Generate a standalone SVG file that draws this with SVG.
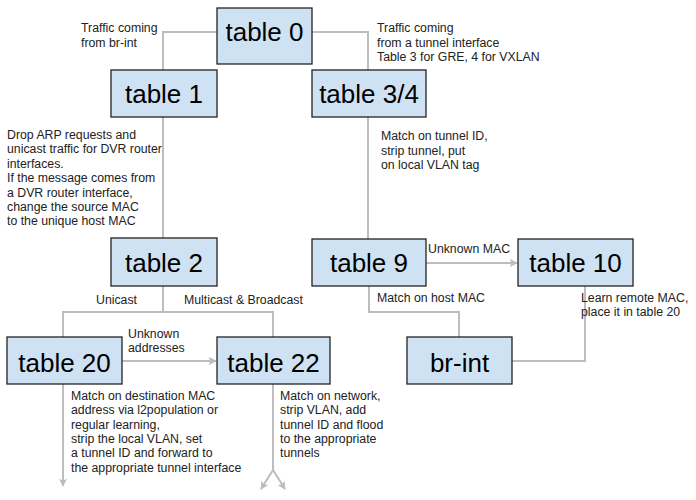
<svg xmlns="http://www.w3.org/2000/svg" width="696" height="500" viewBox="0 0 696 500">
<defs>
<style>
.node rect{fill:#cfe2f3;stroke:#222;stroke-width:1.3}
.node text{font-family:"Liberation Sans",Arial,sans-serif;font-size:26px;fill:#000;text-anchor:middle}
.conn path{fill:none;stroke:#bdbdbd;stroke-width:2}
.lbl{font-family:"Liberation Sans",Arial,sans-serif;font-size:12.3px;fill:#222}
</style>
<marker id="ah" viewBox="0 0 10 10" refX="9" refY="5" markerWidth="4" markerHeight="4" orient="auto" markerUnits="strokeWidth">
<path d="M0,0 L10,5 L0,10 L2,5 Z" fill="#bdbdbd"/>
</marker>
</defs>
<rect width="696" height="500" fill="#fff"/>
<g id="connectors" class="conn">
<path d="M217,32 H163 V70"/>
<path d="M312,32 H368 V70"/>
<path d="M163,117 V238"/>
<path d="M368,117 V239"/>
<path d="M426,263 H517" marker-end="url(#ah)"/>
<path d="M369,286 V312 H459 V337"/>
<path d="M585,286 V361 H512"/>
<path d="M163,286 V312"/>
<path d="M63,337 V312 H273 V337"/>
<path d="M122,361 H216" marker-end="url(#ah)"/>
<path d="M63,384 V486" marker-end="url(#ah)"/>
<path d="M273,384 V470 L261,489" marker-end="url(#ah)"/>
<path d="M273,470 L285,489" marker-end="url(#ah)"/>
</g>
<g id="table0" class="node"><rect x="217" y="8" width="95" height="56"/><text x="264.5" y="41">table 0</text></g>
<g id="table1" class="node"><rect x="111" y="70" width="106" height="47"/><text x="164" y="103">table 1</text></g>
<g id="table34" class="node"><rect x="312" y="70" width="114" height="47"/><text x="369" y="103">table 3/4</text></g>
<g id="table2" class="node"><rect x="111" y="238" width="106" height="48"/><text x="164" y="272">table 2</text></g>
<g id="table9" class="node"><rect x="312" y="239" width="114" height="47"/><text x="369" y="272">table 9</text></g>
<g id="table10" class="node"><rect x="518" y="239" width="115" height="47"/><text x="575.5" y="272">table 10</text></g>
<g id="table20" class="node"><rect x="7" y="337" width="115" height="47"/><text x="64.5" y="372">table 20</text></g>
<g id="table22" class="node"><rect x="217" y="337" width="113" height="47"/><text x="273.5" y="372">table 22</text></g>
<g id="brint" class="node"><rect x="407" y="337" width="105" height="47"/><text x="459.5" y="372">br-int</text></g>
<g id="labels">
<text class="lbl" x="81" y="32">Traffic coming</text>
<text class="lbl" x="81" y="47">from br-int</text>
<text class="lbl" x="377" y="32">Traffic coming</text>
<text class="lbl" x="377" y="46.5">from a tunnel interface</text>
<text class="lbl" x="377" y="61">Table 3 for GRE, 4 for VXLAN</text>
<text class="lbl" x="7" y="139">Drop ARP requests and</text>
<text class="lbl" x="7" y="153.4">unicast traffic for DVR router</text>
<text class="lbl" x="7" y="167.8">interfaces.</text>
<text class="lbl" x="7" y="182.2">If the message comes from</text>
<text class="lbl" x="7" y="196.6">a DVR router interface,</text>
<text class="lbl" x="7" y="211">change the source MAC</text>
<text class="lbl" x="7" y="225.4">to the unique host MAC</text>
<text class="lbl" x="381" y="140">Match on tunnel ID,</text>
<text class="lbl" x="381" y="154.5">strip tunnel, put</text>
<text class="lbl" x="381" y="169">on local VLAN tag</text>
<text class="lbl" x="428" y="253">Unknown MAC</text>
<text class="lbl" x="96" y="304">Unicast</text>
<text class="lbl" x="184" y="304">Multicast &amp; Broadcast</text>
<text class="lbl" x="377" y="302">Match on host MAC</text>
<text class="lbl" x="581" y="302">Learn remote MAC,</text>
<text class="lbl" x="581" y="316">place it in table 20</text>
<text class="lbl" x="128" y="338">Unknown</text>
<text class="lbl" x="128" y="352">addresses</text>
<text class="lbl" x="71" y="400">Match on destination MAC</text>
<text class="lbl" x="71" y="414.3">address via l2population or</text>
<text class="lbl" x="71" y="428.6">regular learning,</text>
<text class="lbl" x="71" y="442.9">strip the local VLAN, set</text>
<text class="lbl" x="71" y="457.2">a tunnel ID and forward to</text>
<text class="lbl" x="71" y="471.5">the appropriate tunnel interface</text>
<text class="lbl" x="280" y="400">Match on network,</text>
<text class="lbl" x="280" y="414.3">strip VLAN, add</text>
<text class="lbl" x="280" y="428.6">tunnel ID and flood</text>
<text class="lbl" x="280" y="442.9">to the appropriate</text>
<text class="lbl" x="280" y="457.2">tunnels</text>
</g>
</svg>
